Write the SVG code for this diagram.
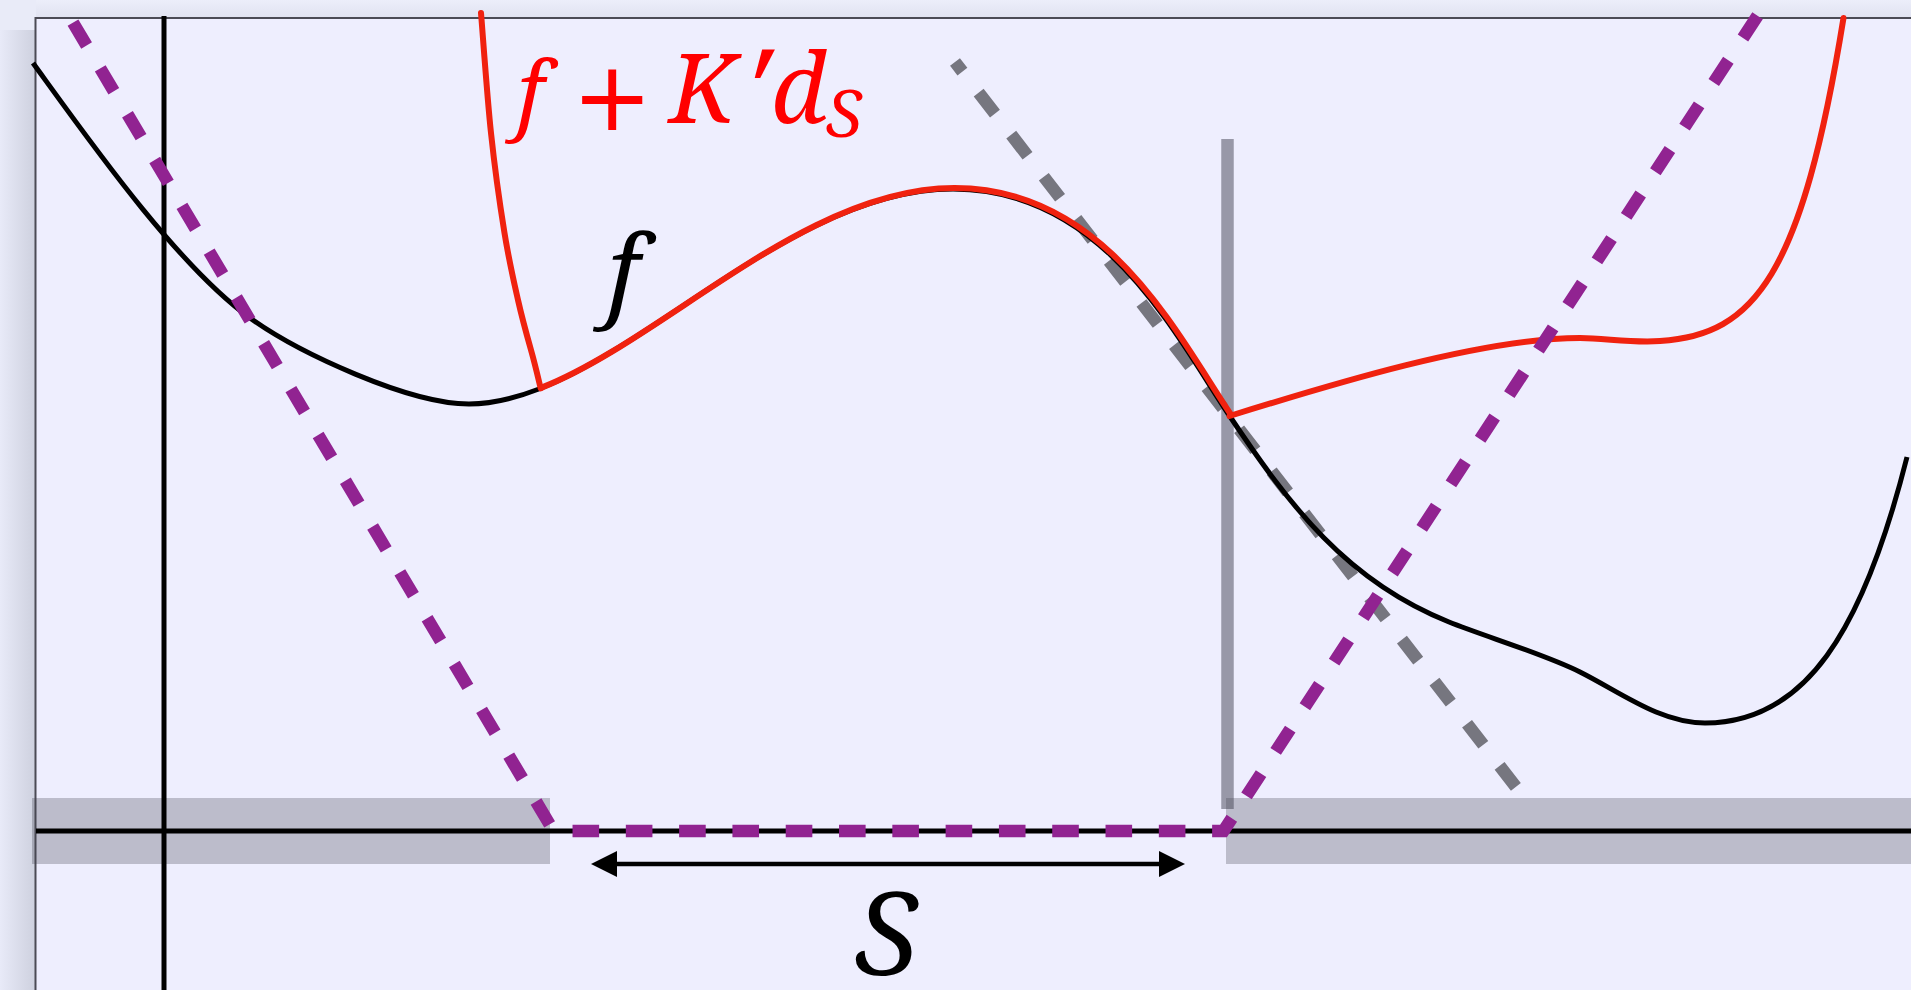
<svg xmlns="http://www.w3.org/2000/svg" width="1911" height="990" viewBox="0 0 1911 990">
<defs>
<linearGradient id="shL" x1="0" x2="1" y1="0" y2="0"><stop offset="0" stop-color="#E8EAF8"/><stop offset="1" stop-color="#CDD0DE"/></linearGradient>
<linearGradient id="shT" x1="0" x2="0" y1="0" y2="1"><stop offset="0" stop-color="#ECEEFA"/><stop offset="1" stop-color="#E0E2F0"/></linearGradient>
<marker id="ah" markerUnits="userSpaceOnUse" markerWidth="26" markerHeight="26" refX="17" refY="13" orient="auto-start-reverse" viewBox="0 0 26 26"><path d="M0,0 L26,13 L0,26 Z" fill="#000"/></marker>
</defs>
<style>
.axis{stroke:#000;stroke-width:5;fill:none}
.fcurve{stroke:#000;stroke-width:5;fill:none;stroke-linejoin:round}
.red{stroke:#F0220F;stroke-width:6;fill:none;stroke-linejoin:round;stroke-linecap:round}
.band{fill:#404050;fill-opacity:0.29}
.tex{font-family:'Noto Serif','DejaVu Serif',serif;font-style:italic}
.op{font-family:'DejaVu Sans',sans-serif;font-style:normal}
</style>
<g id="background">
<rect x="0" y="0" width="1911" height="990" fill="#E9EBF8"/>
<rect x="0" y="30" width="36" height="960" fill="url(#shL)"/>
<rect x="36" y="0" width="1875" height="18" fill="url(#shT)"/>
<rect x="35.5" y="18" width="1890" height="990" fill="#EEEEFE" stroke="#4B4B55" stroke-width="2"/>
</g>
<g id="bands">
<rect class="band" x="32" y="798" width="518" height="66"/>
<rect class="band" x="1226" y="798" width="700" height="66"/>
<line x1="1227.5" y1="139" x2="1227.5" y2="809" stroke="#404050" stroke-opacity="0.49" stroke-width="12.5"/>
</g>
<g id="axes">
<line class="axis" x1="164" y1="16" x2="164" y2="990"/>
<line class="axis" x1="36" y1="831" x2="1911" y2="831"/>
</g>
<g id="tangent">
<path d="M955,62 L1516,787" fill="none" stroke="#76767F" stroke-width="12.5" stroke-dasharray="26.6 26.6" stroke-dashoffset="14.5"/>
</g>
<g id="curve-f">
<path class="fcurve" d="M33,63 C86,136 176.8,265.5 250,318 C298.8,353 409,404 469,404 C610,404 775,189 953,189 C1103,189 1173.5,331.8 1229,415 C1290,506.5 1346.9,581.3 1449,622 C1486,636.8 1544.2,654.1 1580,672 C1620.2,692.1 1660,723 1705,723 C1805,723 1862.9,631.6 1907,457"/>
</g>
<g id="curve-fK">
<path class="red" d="M481,13 C482.7,33 487.1,96.3 491,133 C494.9,169.7 500,205.2 504.5,233 C509,260.8 513.6,280.5 518,300 C522.4,319.5 526.7,334.8 531,350 C535.3,365.2 539,381.5 540.7,388.4"/>
<path class="red" transform="translate(1.5,-1)" d="M540.7,388.4 C664.8,338.9 804.4,189 953,189 C1103,189 1173.5,331.8 1229,415"/>
<path class="red" d="M1229.5,416 C1325,386.4 1480,338 1580,338 C1605,338 1630,343 1660,341 C1755,335 1801.9,274.6 1843.5,18"/>
</g>
<g id="bound">
<path d="M73,22.6 L553.6,831 L1223.5,831 L1757.6,15.6" fill="none" stroke="#912391" stroke-width="12.5" stroke-dasharray="26.6 26.7" stroke-linejoin="miter"/>
</g>
<g id="arrow-S">
<line x1="600" y1="864" x2="1176" y2="864" stroke="#000" stroke-width="4.5" marker-start="url(#ah)" marker-end="url(#ah)"/>
<text class="tex" x="855" y="975" font-size="115" fill="#000">S</text>
</g>
<g id="label-f">
<text class="tex" x="607" y="308" font-size="101" fill="#000">f</text>
</g>
<g id="label-fK" fill="#FF0000">
<text class="tex" x="516.7" y="123" font-size="85">f</text>
<text class="op" x="572" y="130" font-size="96">+</text>
<text class="tex" x="669" y="123" font-size="96">K</text>
<text class="tex" x="742" y="135.6" font-size="120">′</text>
<text class="tex" x="771" y="123" font-size="96">d</text>
<text class="tex" x="826" y="137" font-size="66">S</text>
</g>
</svg>
